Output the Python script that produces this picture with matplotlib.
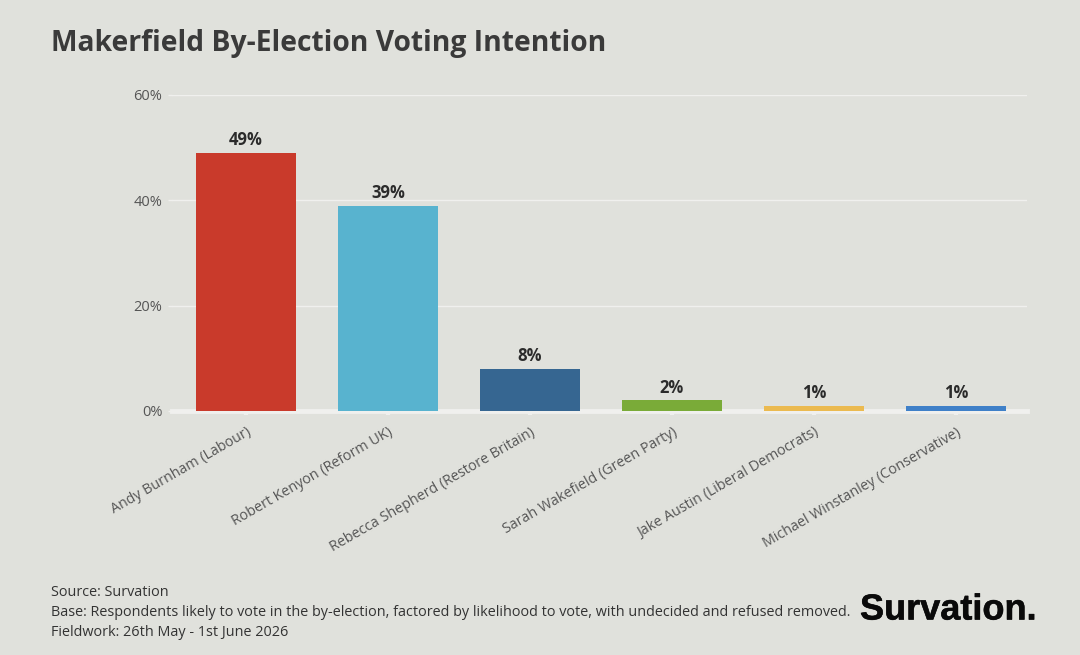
import matplotlib
matplotlib.use('Agg')
import matplotlib.pyplot as plt
import matplotlib.patheffects as pe

plt.rcParams['font.family'] = ['Open Sans', 'DejaVu Sans']

candidates = ['Andy Burnham (Labour)', 'Robert Kenyon (Reform UK)', 'Rebecca Shepherd (Restore Britain)',
              'Sarah Wakefield (Green Party)', 'Jake Austin (Liberal Democrats)', 'Michael Winstanley (Conservative)']
shares = [49, 39, 8, 2, 1, 1]
bar_colors = ['#c93a2b', '#58b3cf', '#366691', '#7aab38', '#ebba50', '#3f80c8']
y_ticks = [0, 20, 40, 60]
bg = '#e0e1dc'
line_col = '#f0f0ee'

fig = plt.figure(figsize=(10.8, 6.55), dpi=100, facecolor=bg)
ax = fig.add_axes([172/1080, 1-411/655, (1027-172)/1080, (411-95)/655], facecolor=bg)

x = list(range(len(candidates)))
ax.bar(x, shares, width=0.7, color=bar_colors, zorder=3)
ax.set_xlim(-0.52, 5.5)
ax.set_ylim(0, 60)
ax.set_yticks(y_ticks)
ax.set_yticklabels([f'{t}%' for t in y_ticks], fontsize=10.5, color='#555555')
ax.set_xticks(x)
ax.set_xticklabels(candidates, rotation=30, ha='right', rotation_mode='anchor', fontsize=10.3, color='#555555')
ax.tick_params(axis='y', length=3, width=1, color=line_col, pad=4)
ax.tick_params(axis='x', length=3, width=3, color=line_col, pad=7)
ax.grid(axis='y', color=line_col, linewidth=1, zorder=0)
for s in ['top', 'left', 'right']:
    ax.spines[s].set_visible(False)
ax.spines['bottom'].set_color(line_col)
ax.spines['bottom'].set_linewidth(3.5)

for i, v in zip(x, shares):
    ax.text(i, v + 0.7, f'{v}%', ha='center', va='bottom', fontsize=12, fontweight='bold', color='#2b2b2b', zorder=4)

fig.text(51/1080, 1-44/655, 'Makerfield By-Election Voting Intention', fontsize=20.3, fontweight='bold', color='#3a3a3a', va='center')
fig.text(51/1080, 1-592/655, 'Source: Survation', fontsize=10.4, color='#333333', va='center')
fig.text(51/1080, 1-612/655, 'Base: Respondents likely to vote in the by-election, factored by likelihood to vote, with undecided and refused removed.', fontsize=10.4, color='#333333', va='center')
fig.text(51/1080, 1-633/655, 'Fieldwork: 26th May - 1st June 2026', fontsize=10.4, color='#333333', va='center')
logo = fig.text(860/1080, 1-610/655, 'Survation.', fontsize=26, fontweight='bold', color='#0a0a0a', va='center',
                family=['Liberation Sans', 'DejaVu Sans'])
logo.set_path_effects([pe.withStroke(linewidth=0.4, foreground='#0a0a0a')])

fig.savefig('out.png', dpi=100, facecolor=bg)
